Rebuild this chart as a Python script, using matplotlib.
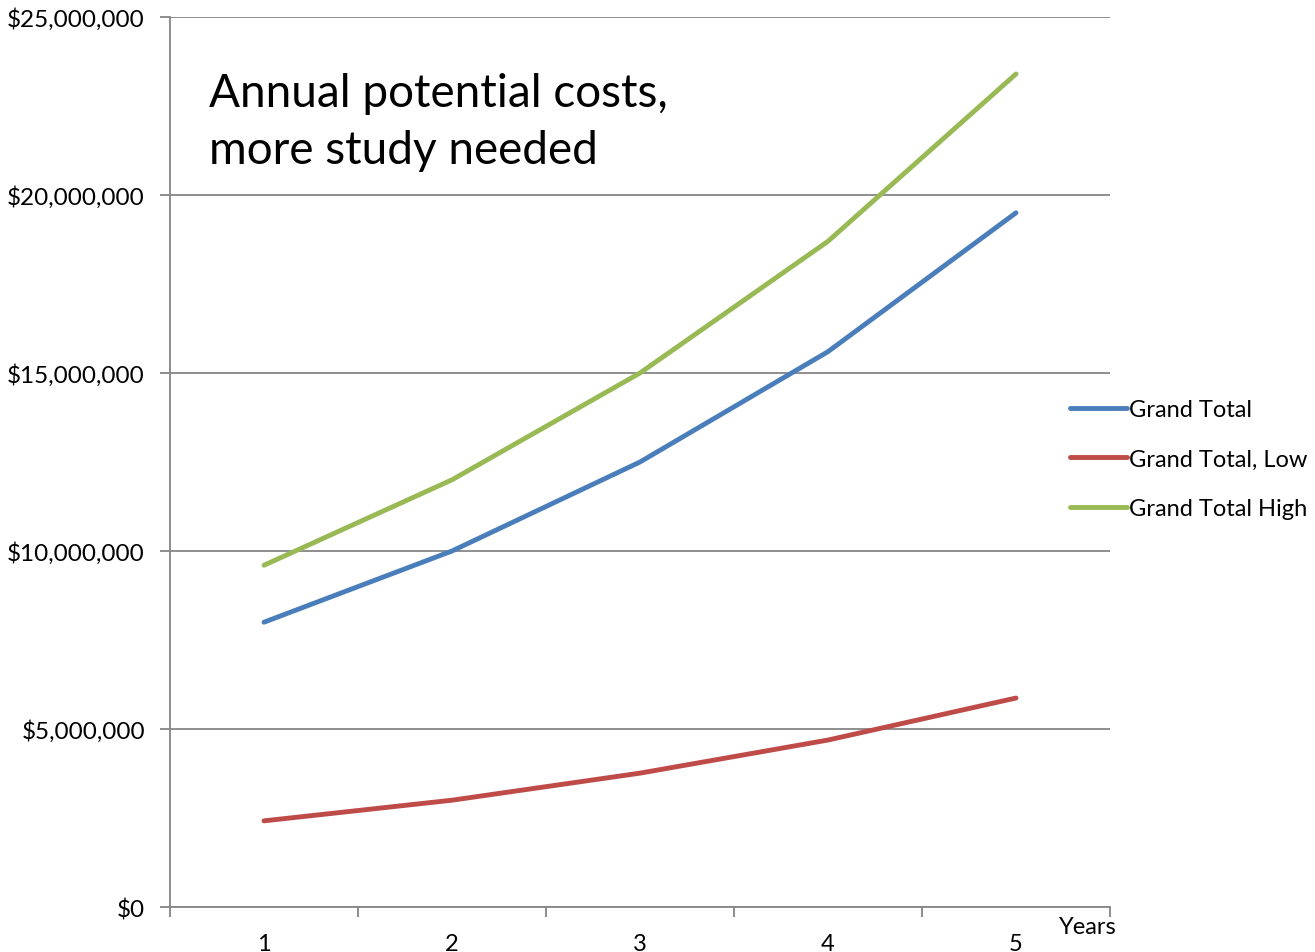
import matplotlib.pyplot as plt
from matplotlib.ticker import FuncFormatter, FixedLocator

# Data (dollars)
years = [1, 2, 3, 4, 5]
grand_total = [8.0e6, 10.0e6, 12.5e6, 15.6e6, 19.5e6]
grand_total_low = [2.42e6, 3.0e6, 3.76e6, 4.69e6, 5.87e6]
grand_total_high = [9.6e6, 12.0e6, 15.0e6, 18.7e6, 23.4e6]

plt.rcParams['font.family'] = ['Lato', 'DejaVu Sans']

fig = plt.figure(figsize=(13.15, 9.53), dpi=100)
ax = fig.add_axes([170 / 1315, 1 - 908 / 953, 940 / 1315, 890 / 953])

grid_color = '#868686'
ax.plot(years, grand_total, color='#4a7ebb', lw=3.5, label='Grand Total', solid_capstyle='round')
ax.plot(years, grand_total_low, color='#be4b48', lw=3.5, label='Grand Total, Low', solid_capstyle='round')
ax.plot(years, grand_total_high, color='#98b954', lw=3.5, label='Grand Total High', solid_capstyle='round')

ax.set_xlim(0.5, 5.5)
ax.set_ylim(0, 25e6)
ax.set_yticks([0, 5e6, 10e6, 15e6, 20e6, 25e6])
ax.yaxis.set_major_formatter(FuncFormatter(lambda v, p: f'${v:,.0f}'))
ax.yaxis.grid(True, color=grid_color, lw=1.3)
ax.set_axisbelow(True)

# category ticks sit between categories, labels centred on categories
ax.xaxis.set_major_locator(FixedLocator([0.5, 1.5, 2.5, 3.5, 4.5, 5.5]))
ax.xaxis.set_major_formatter(FuncFormatter(lambda v, p: ''))
ax.xaxis.set_minor_locator(FixedLocator(years))
ax.xaxis.set_minor_formatter(FuncFormatter(lambda v, p: f'{int(round(v))}'))
ax.tick_params(axis='x', which='minor', length=0, pad=19, labelsize=17)
ax.tick_params(axis='x', which='major', length=7, width=1.3, color=grid_color, direction='out')
ax.tick_params(axis='y', length=7, width=1.3, color=grid_color, labelsize=17.5, pad=11)

for s in ['top', 'right']:
    ax.spines[s].set_visible(False)
for s in ['left', 'bottom']:
    ax.spines[s].set_color(grid_color)
    ax.spines[s].set_linewidth(1.3)

fig.text(1088 / 1315, 1 - 928 / 953, 'Years', fontsize=17, ha='center', va='center')
ax.text(0.041, 0.938, 'Annual potential costs,\nmore study needed', transform=ax.transAxes,
        fontsize=33, va='top', ha='left', linespacing=1.45)

fig.legend(loc='center left', bbox_to_anchor=(1070 / 1315, 1 - 460 / 953), frameon=False,
           fontsize=17, handlelength=2.4, handletextpad=0.1, labelspacing=1.2,
           borderpad=0, borderaxespad=0)

fig.savefig('out.png', dpi=100)
